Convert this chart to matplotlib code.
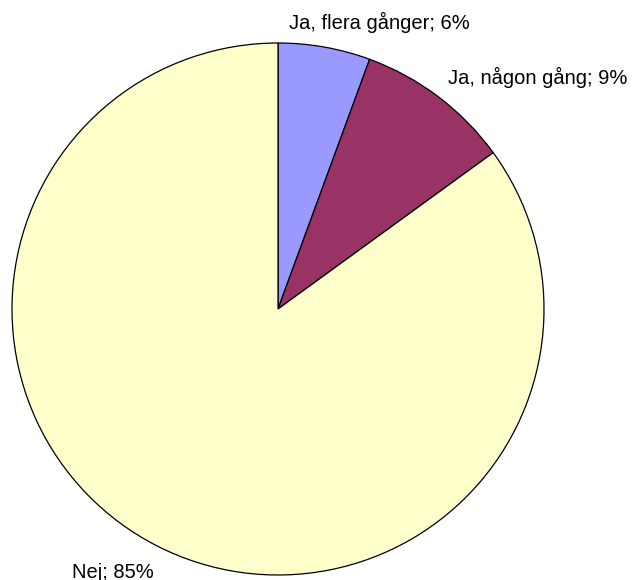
import matplotlib
matplotlib.use("Agg")
import matplotlib.pyplot as plt

plt.rcParams["font.family"] = ["Liberation Sans", "DejaVu Sans"]

categories = ["Ja, flera gånger", "Ja, någon gång", "Nej"]
shares = [5.6, 9.4, 85.0]
colors = ["#9999FF", "#993366", "#FFFFCC"]

# label anchor positions in pixels (x, y from top)
label_pos = [(379, 22), (538, 77), (113, 572)]

W, H = 637, 580
fig = plt.figure(figsize=(W / 100, H / 100), dpi=100)
ax = fig.add_axes([0, 0, 1, 1])

ax.pie(shares, colors=colors, startangle=90, counterclock=False,
       center=(278, H - 309), radius=266, frame=True,
       wedgeprops=dict(edgecolor="black", linewidth=0.9))
ax.set_xlim(0, W)
ax.set_ylim(0, H)
ax.set_aspect("equal")
ax.axis("off")

for name, v, (x, y) in zip(categories, shares, label_pos):
    ax.text(x, H - y, f"{name}; {round(v)}%", ha="center", va="center",
            fontsize=14.5, color="black")

fig.savefig("out.png", dpi=100)
